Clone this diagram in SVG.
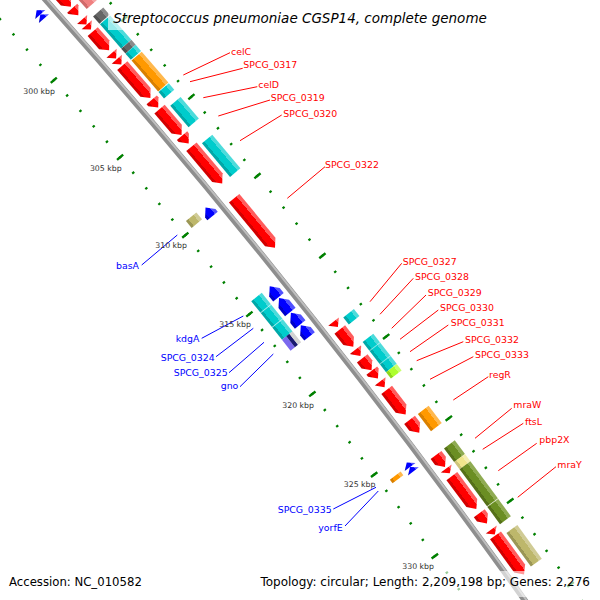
<svg xmlns="http://www.w3.org/2000/svg" width="600" height="600" viewBox="0 0 600 600">
<style>
text{font-family:"DejaVu Sans","Liberation Sans",sans-serif}
.lr{fill:#f00;font-size:9.4px}
.lb{fill:#00f;font-size:9.4px}
.tk{fill:#333;font-size:7.8px;text-anchor:end}
.r{fill:url(#gR)}.b{fill:url(#gB)}.c{fill:url(#gC)}.o{fill:url(#gO)}.ol{fill:url(#gOl)}.k{fill:url(#gK)}.py{fill:url(#gPy)}.lg{fill:url(#gLg)}.gy{fill:url(#gGy)}.sa{fill:url(#gSa)}
.dv{stroke:#fff;stroke-opacity:.5;stroke-width:1}
.cr{stroke:#f00;stroke-width:1}.cb{stroke:#00f;stroke-width:1}
.band{fill:#fff;fill-opacity:.6}
</style>
<defs>
<linearGradient id="gR" x1="0" y1="0" x2="1" y2="0"><stop offset="0" stop-color="#d20000"/><stop offset=".22" stop-color="#d20000"/><stop offset=".22" stop-color="#f00"/><stop offset=".72" stop-color="#f00"/><stop offset=".72" stop-color="#ff5c5c"/><stop offset="1" stop-color="#ff5c5c"/></linearGradient>
<linearGradient id="gB" x1="0" y1="0" x2="1" y2="0"><stop offset="0" stop-color="#0000c8"/><stop offset=".22" stop-color="#0000c8"/><stop offset=".22" stop-color="#00f"/><stop offset=".72" stop-color="#00f"/><stop offset=".72" stop-color="#5050ff"/><stop offset="1" stop-color="#5050ff"/></linearGradient>
<linearGradient id="gC" x1="0" y1="0" x2="1" y2="0"><stop offset="0" stop-color="#00a8a8"/><stop offset=".22" stop-color="#00a8a8"/><stop offset=".22" stop-color="#00cccc"/><stop offset=".72" stop-color="#00cccc"/><stop offset=".72" stop-color="#4ddbdb"/><stop offset="1" stop-color="#4ddbdb"/></linearGradient>
<linearGradient id="gO" x1="0" y1="0" x2="1" y2="0"><stop offset="0" stop-color="#d98000"/><stop offset=".22" stop-color="#d98000"/><stop offset=".22" stop-color="#f90"/><stop offset=".72" stop-color="#f90"/><stop offset=".72" stop-color="#ffb84d"/><stop offset="1" stop-color="#ffb84d"/></linearGradient>
<linearGradient id="gOl" x1="0" y1="0" x2="1" y2="0"><stop offset="0" stop-color="#557019"/><stop offset=".22" stop-color="#557019"/><stop offset=".22" stop-color="#6b8e23"/><stop offset=".72" stop-color="#6b8e23"/><stop offset=".72" stop-color="#8fab52"/><stop offset="1" stop-color="#8fab52"/></linearGradient>
<linearGradient id="gK" x1="0" y1="0" x2="1" y2="0"><stop offset="0" stop-color="#9b9655"/><stop offset=".22" stop-color="#9b9655"/><stop offset=".22" stop-color="#bdb76b"/><stop offset=".72" stop-color="#bdb76b"/><stop offset=".72" stop-color="#d0cb95"/><stop offset="1" stop-color="#d0cb95"/></linearGradient>
<linearGradient id="gPy" x1="0" y1="0" x2="1" y2="0"><stop offset="0" stop-color="#cfc57a"/><stop offset=".22" stop-color="#cfc57a"/><stop offset=".22" stop-color="#f0e68c"/><stop offset=".72" stop-color="#f0e68c"/><stop offset=".72" stop-color="#f5eeb0"/><stop offset="1" stop-color="#f5eeb0"/></linearGradient>
<linearGradient id="gLg" x1="0" y1="0" x2="1" y2="0"><stop offset="0" stop-color="#8fd61e"/><stop offset=".22" stop-color="#8fd61e"/><stop offset=".22" stop-color="#adff2f"/><stop offset=".72" stop-color="#adff2f"/><stop offset=".72" stop-color="#c8ff70"/><stop offset="1" stop-color="#c8ff70"/></linearGradient>
<linearGradient id="gGy" x1="0" y1="0" x2="1" y2="0"><stop offset="0" stop-color="#505050"/><stop offset=".22" stop-color="#505050"/><stop offset=".22" stop-color="#666"/><stop offset=".72" stop-color="#666"/><stop offset=".72" stop-color="#8a8a8a"/><stop offset="1" stop-color="#8a8a8a"/></linearGradient>
<linearGradient id="gSa" x1="0" y1="0" x2="1" y2="0"><stop offset="0" stop-color="#d06a6a"/><stop offset=".22" stop-color="#d06a6a"/><stop offset=".22" stop-color="#f08080"/><stop offset=".72" stop-color="#f08080"/><stop offset=".72" stop-color="#f5a5a5"/><stop offset="1" stop-color="#f5a5a5"/></linearGradient>
</defs>
<rect width="600" height="600" fill="#fff"/>
<g id="ticks" fill="none" stroke="#008000">
<path d="M-82.07 -71.02A7148 7148 0 0 1 552.65 721.87" stroke-width="2.6" stroke-dasharray="2.2 18.1297" stroke-dashoffset="1.1"/>
<path d="M-82.07 -71.02A7148 7148 0 0 1 552.65 721.87" stroke-width="8" stroke-dasharray="2.4 99.2485" stroke-dashoffset="1.2"/>
<path d="M-13.41 -134.49A7241.5 7241.5 0 0 1 629.62 668.77" stroke-width="2.6" stroke-dasharray="2.2 18.3957" stroke-dashoffset="1.1"/>
<path d="M-13.41 -134.49A7241.5 7241.5 0 0 1 629.62 668.77" stroke-width="8" stroke-dasharray="2.4 100.5785" stroke-dashoffset="1.2"/>
</g>
<g id="backbone" fill="none">
<path d="M-47.55 -102.92A7195 7195 0 0 1 591.34 695.17" stroke="#8e8e8e" stroke-width="6"/>
<path d="M-46.45 -103.94A7196.5 7196.5 0 0 1 592.57 694.32" stroke="#bebebe" stroke-width="2"/>
</g>
<g id="features" transform="translate(-5331 4781)">
<g id="R1" transform="rotate(-41.7718) translate(7195 0)"><path class="r" d="M7.5 0H21V30.36L14.25 37.86L7.5 30.36Z"/></g>
<g id="R1b" transform="rotate(-41.4541) translate(7195 0)"><path class="r" d="M7.5 0H21V1.71L14.25 9.21L7.5 1.71Z"/></g>
<g id="R2" transform="rotate(-41.3351) translate(7195 0)"><path class="r" d="M7.5 0H21L14.25 6.55Z"/></g>
<g id="R3" transform="rotate(-41.2797) translate(7195 0)"><path class="r" d="M7.5 0H21L14.25 6.34Z"/></g>
<g id="R4" transform="rotate(-41.2080) translate(7195 0)"><path class="r" d="M7.5 0H21V17.46L14.25 24.96L7.5 17.46Z"/></g>
<g id="R5" transform="rotate(-40.9799) translate(7195 0)"><path class="r" d="M7.5 0H21L14.25 6.96Z"/></g>
<g id="R6" transform="rotate(-40.9163) translate(7195 0)"><path class="r" d="M7.5 0H21L14.25 6.96Z"/></g>
<g id="R7" transform="rotate(-40.8495) translate(7195 0)"><path class="r" d="M7.5 0H21V35.47L14.25 42.97L7.5 35.47Z"/></g>
<g id="f-celC" transform="rotate(-40.4910) translate(7195 0)"><path class="r" d="M7.5 0H21V2.53L14.25 10.03L7.5 2.53Z"/></g>
<g id="f-celD" transform="rotate(-40.3949) translate(7195 0)"><path class="r" d="M7.5 0H21V26.47L14.25 33.97L7.5 26.47Z"/></g>
<g id="f-SPCG_0319" transform="rotate(-40.1178) translate(7195 0)"><path class="r" d="M7.5 0H21V2.73L14.25 10.23L7.5 2.73Z"/></g>
<g id="f-SPCG_0320" transform="rotate(-40.0021) translate(7195 0)"><path class="r" d="M7.5 0H21V40.38L14.25 47.88L7.5 40.38Z"/></g>
<g id="f-SPCG_0322" transform="rotate(-39.4709) translate(7195 0)"><path class="r" d="M7.5 0H21V56.75L14.25 64.25L7.5 56.75Z"/></g>
<g id="f-SPCG_0327" transform="rotate(-38.2112) translate(7195 0)"><path class="r" d="M7.5 0H21L14.25 6.96Z"/></g>
<g id="f-SPCG_0328" transform="rotate(-38.1314) translate(7195 0)"><path class="r" d="M7.5 0H21V14.4L14.25 21.9L7.5 14.4Z"/></g>
<g id="f-SPCG_0329" transform="rotate(-37.9293) translate(7195 0)"><path class="r" d="M7.5 0H21V.69L14.25 8.19L7.5 .69Z"/></g>
<g id="f-SPCG_0330" transform="rotate(-37.8413) translate(7195 0)"><path class="r" d="M7.5 0H21V7.64L14.25 15.14L7.5 7.64Z"/></g>
<g id="f-SPCG_0331" transform="rotate(-37.7175) translate(7195 0)"><path class="r" d="M7.5 0H21V2.53L14.25 10.03L7.5 2.53Z"/></g>
<g id="f-SPCG_0332" transform="rotate(-37.6083) translate(7195 0)"><path class="r" d="M7.5 0H21L14.25 7.16Z"/></g>
<g id="f-SPCG_0333" transform="rotate(-37.5236) translate(7195 0)"><path class="r" d="M7.5 0H21V23.6L14.25 31.1L7.5 23.6Z"/></g>
<g id="f-regR" transform="rotate(-37.2237) translate(7195 0)"><path class="r" d="M7.5 0H21V8.46L14.25 15.96L7.5 8.46Z"/></g>
<g id="f-mraW" transform="rotate(-36.8750) translate(7195 0)"><path class="r" d="M7.5 0H21V7.44L14.25 14.94L7.5 7.44Z"/></g>
<g id="f-ftsL" transform="rotate(-36.7397) translate(7195 0)"><path class="r" d="M7.5 0H21L14.25 5.93Z"/></g>
<g id="f-pbp2X" transform="rotate(-36.6648) translate(7195 0)"><path class="r" d="M7.5 0H21V33.43L14.25 40.93L7.5 33.43Z"/></g>
<g id="f-mraY" transform="rotate(-36.2981) translate(7195 0)"><path class="r" d="M7.5 0H21V5.39L14.25 12.89L7.5 5.39Z"/></g>
<g id="R25" transform="rotate(-36.1368) translate(7195 0)"><path class="r" d="M7.5 0H21L14.25 5.93Z"/></g>
<g id="R26" transform="rotate(-36.0798) translate(7195 0)"><path class="r" d="M7.5 0H21V41L14.25 48.5L7.5 41Z"/></g>
<g id="F1" transform="rotate(-41.6415) translate(7195 0)"><rect class="sa" x="24.5" width="13.5" height="33.76"/></g>
<g id="F2" transform="rotate(-41.2960) translate(7195 0)"><rect class="gy" x="24.5" width="13.5" height="9.62"/></g>
<g id="F3" transform="rotate(-41.2129) translate(7195 0)"><rect class="c" x="24.5" width="13.5" height="32.13"/></g>
<g id="F4" transform="rotate(-40.9570) translate(7195 0)"><rect class="gy" x="24.5" width="13.5" height="6.55"/></g>
<g id="F5" transform="rotate(-40.9049) translate(7195 0)"><rect class="c" x="24.5" width="13.5" height="8.19"/></g>
<g id="F6" transform="rotate(-40.8316) translate(7195 0)"><rect class="o" x="24.5" width="13.5" height="40.72"/></g>
<g id="F7" transform="rotate(-40.5024) translate(7195 0)"><rect class="c" x="24.5" width="13.5" height="8.39"/></g>
<g id="F8" transform="rotate(-40.3590) translate(7195 0)"><rect class="c" x="24.5" width="13.5" height="28.24"/></g>
<g id="F9" transform="rotate(-39.9695) translate(7195 0)"><rect class="c" x="24.5" width="13.5" height="43.79"/></g>
<g id="F10" transform="rotate(-38.1901) translate(7195 0)"><rect class="c" x="24.5" width="13.5" height="9"/></g>
<g id="F11" transform="rotate(-37.9407) translate(7195 0)"><rect class="c" x="24.5" width="13.5" height="38.06"/><path class="dv" d="M24.5 11.05H38M24.5 27.83H38"/></g>
<g id="F12" transform="rotate(-37.6376) translate(7195 0)"><rect class="lg" x="24.5" width="13.5" height="7.98"/></g>
<g id="F13" transform="rotate(-37.2221) translate(7195 0)"><rect class="o" x="24.5" width="13.5" height="21.69"/></g>
<g id="F14" transform="rotate(-36.8782) translate(7195 0)"><rect class="ol" x="24.5" width="13.5" height="16.98"/></g>
<g id="F15" transform="rotate(-36.7430) translate(7195 0)"><rect class="py" x="24.5" width="13.5" height="9"/></g>
<g id="F16" transform="rotate(-36.6713) translate(7195 0)"><rect class="ol" x="24.5" width="13.5" height="46.25"/></g>
<g id="F17" transform="rotate(-36.3030) translate(7195 0)"><rect class="ol" x="24.5" width="13.5" height="21.69"/><path class="dv" d="M24.5 0H38" stroke-opacity=".3"/></g>
<g id="F18" transform="rotate(-36.0440) translate(7195 0)"><rect class="k" x="24.5" width="13.5" height="41.54"/></g>
<g id="B1a" transform="rotate(-41.6301) translate(7195 0)"><path class="b" d="M-13.75 0L-7 5.53H-20.5Z"/></g>
<g id="B1b" transform="rotate(-41.5861) translate(7195 0)"><path class="b" d="M-13.75 0L-7 5.53H-20.5Z"/></g>
<g id="f-basA" transform="rotate(-39.5589) translate(7195 0)"><path class="b" d="M-13.75 0L-7 7.5V11.05H-20.5V7.5Z"/></g>
<g id="f-kdgA" transform="rotate(-38.7474) translate(7195 0)"><path class="b" d="M-13.75 0L-7 7.5V13.91H-20.5V7.5Z"/></g>
<g id="f-SPCG_0324" transform="rotate(-38.6284) translate(7195 0)"><path class="b" d="M-13.75 0L-7 7.5V18.01H-20.5V7.5Z"/></g>
<g id="f-SPCG_0325" transform="rotate(-38.4769) translate(7195 0)"><path class="b" d="M-13.75 0L-7 7.5V14.94H-20.5V7.5Z"/></g>
<g id="f-gno" transform="rotate(-38.3498) translate(7195 0)"><path class="b" d="M-13.75 0L-7 7.5V14.12H-20.5V7.5Z"/></g>
<g id="f-SPCG_0335" transform="rotate(-36.9662) translate(7195 0)"><path class="b" d="M-13.75 0L-7 5.53H-20.5Z"/></g>
<g id="f-yorfE" transform="rotate(-36.9222) translate(7195 0)"><path class="b" d="M-13.75 0L-7 5.53H-20.5Z"/></g>
<g id="K1" transform="rotate(-39.5752) translate(7195 0)"><rect class="k" x="-37.5" width="13.5" height="9"/></g>
<g id="C1" transform="rotate(-38.7474) translate(7195 0)"><rect class="c" x="-37.5" width="13.5" height="14.94"/></g>
<g id="C2" transform="rotate(-38.6284) translate(7195 0)"><rect class="c" x="-37.5" width="13.5" height="18.62"/><path class="dv" d="M-37.5 0H-24"/></g>
<g id="C3" transform="rotate(-38.4801) translate(7195 0)"><rect class="c" x="-37.5" width="13.5" height="15.96"/><path class="dv" d="M-37.5 0H-24"/></g>
<g id="P" transform="rotate(-38.3530) translate(7195 0)"><rect fill="#7b68ee" x="-37.5" width="5.5" height="13.91"/><rect fill="#191970" x="-32" width="4" height="13.91"/><rect fill="#d3d3d3" x="-28" width="4" height="13.91"/></g>
<g id="O1" transform="rotate(-36.9385) translate(7195 0)"><rect class="o" x="-37.5" width="13.5" height="4.5"/></g>
</g>
<g id="bands">
<rect class="band" x="108" y="5" width="384" height="25"/>
<rect class="band" x="4" y="571" width="143" height="26"/>
<rect class="band" x="256" y="571" width="339" height="26"/>
</g>
<g id="connectors">
<line class="cr" x1="230" y1="52.7" x2="183.3" y2="75"/>
<line class="cr" x1="242.7" y1="68.3" x2="190" y2="81.7"/>
<line class="cr" x1="257.3" y1="86.7" x2="203.3" y2="97.7"/>
<line class="cr" x1="270" y1="100" x2="218.3" y2="116"/>
<line class="cr" x1="281.7" y1="115" x2="240" y2="140.7"/>
<line class="cr" x1="325" y1="166.7" x2="287.3" y2="198.3"/>
<line class="cr" x1="401.7" y1="263.3" x2="370" y2="301.7"/>
<line class="cr" x1="413.3" y1="278.3" x2="380" y2="314.3"/>
<line class="cr" x1="426" y1="295" x2="391.7" y2="328.3"/>
<line class="cr" x1="438.3" y1="310" x2="400" y2="339.3"/>
<line class="cr" x1="448.3" y1="325" x2="410" y2="351.7"/>
<line class="cr" x1="463.3" y1="341.7" x2="416.7" y2="360.7"/>
<line class="cr" x1="473.3" y1="356.7" x2="430" y2="379.3"/>
<line class="cr" x1="488.3" y1="376.7" x2="453.3" y2="400"/>
<line class="cr" x1="511.7" y1="408.3" x2="475" y2="438.3"/>
<line class="cr" x1="523.3" y1="423.3" x2="482.7" y2="449.3"/>
<line class="cr" x1="536.7" y1="443.3" x2="498.3" y2="470.7"/>
<line class="cr" x1="556" y1="466.7" x2="517.7" y2="497.3"/>
<line class="cb" x1="141.7" y1="265" x2="177.3" y2="235"/>
<line class="cb" x1="201.7" y1="338.3" x2="243.3" y2="316"/>
<line class="cb" x1="216" y1="356.7" x2="253.3" y2="328.3"/>
<line class="cb" x1="229" y1="372.7" x2="264" y2="342.3"/>
<line class="cb" x1="240" y1="386.7" x2="273.3" y2="354"/>
<line class="cb" x1="333.3" y1="509" x2="376" y2="487.3"/>
<line class="cb" x1="345" y1="526" x2="378.3" y2="491"/>
</g>
<g id="labels">
<text class="lr" x="231" y="55">celC</text>
<text class="lr" x="243.3" y="68.3">SPCG_0317</text>
<text class="lr" x="258.3" y="88">celD</text>
<text class="lr" x="270.7" y="101">SPCG_0319</text>
<text class="lr" x="283.3" y="116.5">SPCG_0320</text>
<text class="lr" x="325" y="167.5">SPCG_0322</text>
<text class="lr" x="402.7" y="264.5">SPCG_0327</text>
<text class="lr" x="415" y="279.5">SPCG_0328</text>
<text class="lr" x="427.7" y="296">SPCG_0329</text>
<text class="lr" x="440" y="311">SPCG_0330</text>
<text class="lr" x="450.7" y="325.5">SPCG_0331</text>
<text class="lr" x="465" y="342.5">SPCG_0332</text>
<text class="lr" x="475" y="357.5">SPCG_0333</text>
<text class="lr" x="489" y="377.5">regR</text>
<text class="lr" x="513.3" y="408">mraW</text>
<text class="lr" x="525" y="424.5">ftsL</text>
<text class="lr" x="539.3" y="443">pbp2X</text>
<text class="lr" x="557.3" y="468">mraY</text>
<text class="lb" x="116" y="269">basA</text>
<text class="lb" x="175.7" y="342">kdgA</text>
<text class="lb" x="160.7" y="361">SPCG_0324</text>
<text class="lb" x="173.7" y="376">SPCG_0325</text>
<text class="lb" x="220.7" y="388.5">gno</text>
<text class="lb" x="277.7" y="512.7">SPCG_0335</text>
<text class="lb" x="318.3" y="530.5">yorfE</text>
</g>
<g id="tick-labels">
<text class="tk" x="55" y="94">300 kbp</text>
<text class="tk" x="121.7" y="170.5">305 kbp</text>
<text class="tk" x="187" y="248">310 kbp</text>
<text class="tk" x="251" y="327">315 kbp</text>
<text class="tk" x="314" y="407.5">320 kbp</text>
<text class="tk" x="375.5" y="487">325 kbp</text>
<text class="tk" x="434" y="568.5">330 kbp</text>
</g>
<g id="legend">
<text x="300" y="23" text-anchor="middle" font-style="italic" font-size="13.5" fill="#000">Streptococcus pneumoniae CGSP14, complete genome</text>
<text x="9" y="585.5" font-size="11.7" fill="#000">Accession: NC_010582</text>
<text x="590" y="585.5" text-anchor="end" font-size="12" fill="#000">Topology: circular; Length: 2,209,198 bp; Genes: 2,276</text>
</g>
</svg>
